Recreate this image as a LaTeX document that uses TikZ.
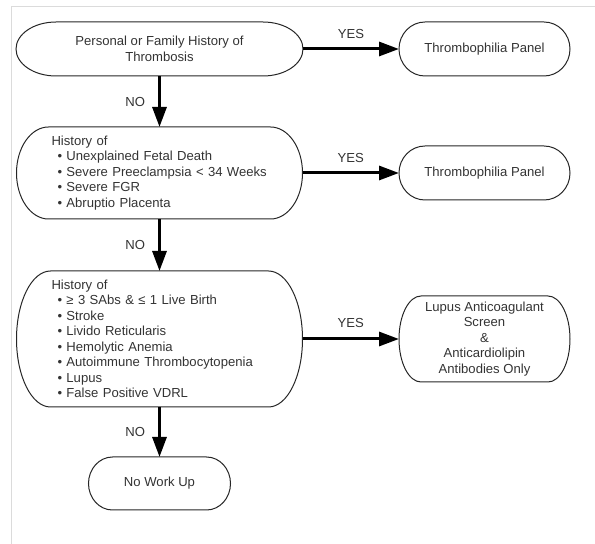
\documentclass[tikz,border=0pt]{standalone}
\usepackage{fontspec}
\setmainfont{Liberation Sans}
\usetikzlibrary{arrows.meta,calc}
\definecolor{txt}{gray}{0.2}
\definecolor{framec}{gray}{0.86}
\newcommand\termshape[2]{\draw[outline] let \p1=(#1.north west), \p2=(#1.south east), \n1={(\y1-\y2)/2} in (\x1+#2pt,\y1) -- (\x2-#2pt,\y1) arc[start angle=90,end angle=-90,x radius=#2pt,y radius=\n1] -- (\x1+#2pt,\y2) arc[start angle=270,end angle=90,x radius=#2pt,y radius=\n1] -- cycle;}
\newcommand\bul{\hspace*{6pt}\textbullet\ }
\begin{document}
\begin{tikzpicture}[x=1pt,y=1pt,
  box/.style={rectangle, draw=none, outer sep=0pt, inner sep=0pt, text=txt, align=center,
    font=\fontsize{13.1pt}{15.5pt}\selectfont},
  listbox/.style={box, align=left, inner xsep=35pt, text width=216pt},
  outline/.style={draw=black!85, line width=1pt},
  arr/.style={draw=black, line width=3pt, -{Triangle[length=20pt,width=14pt]}},
  lab/.style={inner sep=0pt, text=txt, font=\fontsize{13.1pt}{15.5pt}\selectfont}]
\useasboundingbox (0,0) rectangle (595,544);
\draw[framec, line width=1pt] (11,0) -- (11,537) -- (595,537);
\node[box, minimum width=287pt, minimum height=54pt] (n1) at (159.5,495) {Personal or Family History of\\Thrombosis};
\node[box, minimum width=171pt, minimum height=54pt] (n2) at (484.5,495) {Thrombophilia Panel};
\node[listbox, minimum height=92pt] (n3) at (159.5,371) {History of\\
\bul Unexplained Fetal Death\\
\bul Severe Preeclampsia < 34 Weeks\\
\bul Severe FGR\\
\bul Abruptio Placenta};
\node[box, minimum width=171pt, minimum height=54pt] (n4) at (484.5,371) {Thrombophilia Panel};
\node[listbox, minimum height=136pt] (n5) at (159.5,205) {History of\\
\bul ≥ 3 SAbs \& ≤ 1 Live Birth\\
\bul Stroke\\
\bul Livido Reticularis\\
\bul Hemolytic Anemia\\
\bul Autoimmune Thrombocytopenia\\
\bul Lupus\\
\bul False Positive VDRL};
\node[box, minimum width=171pt, minimum height=86pt] (n6) at (484.5,205) {Lupus Anticoagulant\\Screen\\\&\\Anticardiolipin\\Antibodies Only};
\node[box, minimum width=142pt, minimum height=53pt] (n7) at (159.5,60.5) {No Work Up};
\termshape{n1}{40}
\termshape{n2}{26}
\termshape{n3}{32}
\termshape{n4}{26}
\termshape{n5}{34}
\termshape{n6}{22}
\termshape{n7}{24}
\draw[arr] (n1.east) -- node[lab, midway, above=8.5pt] (y1) {YES} (n2.west);
\draw[arr] (n3.east) -- node[lab, midway, above=8.5pt] (y2) {YES} (n4.west);
\draw[arr] (n5.east) -- node[lab, midway, above=9.5pt] (y3) {YES} (n6.west);
\draw[arr] (n1.south) -- node[lab, midway, left=13pt] (no1) {NO} (n3.north);
\draw[arr] (n3.south) -- node[lab, midway, left=13pt] (no2) {NO} (n5.north);
\draw[arr] (n5.south) -- node[lab, midway, left=13pt] (no3) {NO} (n7.north);
\end{tikzpicture}
\end{document}
